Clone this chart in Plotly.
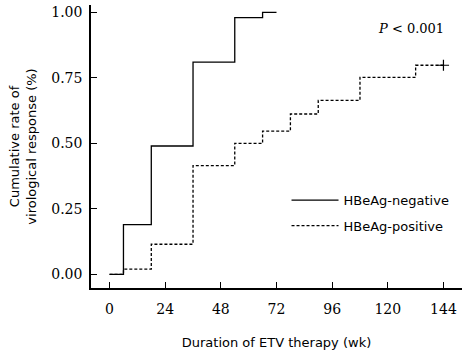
import plotly.graph_objects as go

# Kaplan-Meier style step data (weeks, cumulative rate)
neg_weeks = [0, 6, 18, 36, 54, 66, 72]
neg_rate = [0.0, 0.19, 0.49, 0.81, 0.98, 1.00, 1.00]

pos_weeks = [0, 6, 18, 36, 54, 66, 78, 90, 108, 132, 144]
pos_rate = [0.0, 0.02, 0.115, 0.415, 0.50, 0.547, 0.612, 0.664, 0.752, 0.798, 0.798]

censor_weeks = [144]
censor_rate = [0.798]

x_ticks = [0, 24, 48, 72, 96, 120, 144]
y_ticks = [0.00, 0.25, 0.50, 0.75, 1.00]
y_tick_text = ["0.00", "0.25", "0.50", "0.75", "1.00"]

serif = "DejaVu Serif"
sans = "DejaVu Sans"

fig = go.Figure()
fig.add_trace(go.Scatter(
    x=neg_weeks, y=neg_rate, mode="lines", line_shape="hv",
    line=dict(color="black", width=1.3), name="HBeAg-negative",
    legend="legend"))
fig.add_trace(go.Scatter(
    x=pos_weeks, y=pos_rate, mode="lines", line_shape="hv",
    line=dict(color="black", width=1.3, dash="3px,2px"), name="HBeAg-positive",
    legend="legend2"))
fig.add_trace(go.Scatter(
    x=censor_weeks, y=censor_rate, mode="markers",
    marker=dict(symbol="cross-thin", size=8, line=dict(color="black", width=1.2)),
    showlegend=False))

fig.update_layout(
    width=471, height=357,
    margin=dict(l=91, r=9, t=5, b=69, autoexpand=False),
    paper_bgcolor="white", plot_bgcolor="white",
    showlegend=True,
    legend=dict(x=0.527, y=0.31, xanchor="left", yanchor="middle",
                font=dict(family=sans, size=13, color="black"),
                bgcolor="rgba(0,0,0,0)", itemwidth=47),
    legend2=dict(x=0.527, y=0.22, xanchor="left", yanchor="middle",
                 font=dict(family=sans, size=13, color="black"),
                 bgcolor="rgba(0,0,0,0)", itemwidth=47),
    xaxis=dict(range=[-8, 152], tickvals=x_ticks, ticks="inside", ticklen=6,
               tickwidth=1.3, tickcolor="black", automargin=False,
               showline=True, linecolor="black", linewidth=1.5,
               showgrid=False, zeroline=False,
               tickfont=dict(family=serif, size=14, color="black"),
               ticklabelstandoff=7,
               title=dict(text="Duration of ETV therapy (wk)",
                          font=dict(family=sans, size=13, color="black"),
                          standoff=22)),
    yaxis=dict(range=[-0.052, 1.028], tickvals=y_ticks, ticktext=y_tick_text,
               ticks="inside", ticklen=6, tickwidth=1.3, tickcolor="black",
               automargin=False,
               showline=True, linecolor="black", linewidth=1.5,
               showgrid=False, zeroline=False,
               tickfont=dict(family=serif, size=14, color="black"),
               ticklabelstandoff=4,
               title=dict(text="Cumulative rate of<br>virological response (%)",
                          font=dict(family=sans, size=13, color="black"),
                          standoff=12)),
    annotations=[dict(text="<i>P</i> < 0.001", x=0.958, y=0.916,
                      xref="paper", yref="paper", xanchor="right", yanchor="middle",
                      showarrow=False,
                      font=dict(family=serif, size=13, color="black"))],
)

fig.write_html("out.html", config={"displayModeBar": False},
               post_script="document.body.style.margin='0';")
